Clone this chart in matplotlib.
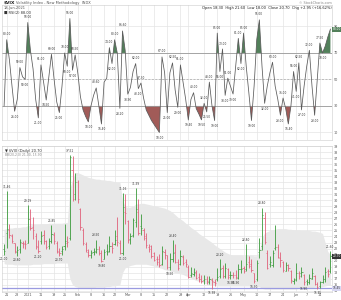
#!/usr/bin/env python
# -*- coding: utf-8 -*-

import numpy as np
import pandas as pd
import matplotlib.pyplot as plt

# datos
holidays = ['2020-12-25', '2021-01-01', '2021-01-18', '2021-02-15',
            '2021-04-02', '2021-05-31']
dates = pd.bdate_range('2020-12-18', '2021-06-18')
dates = dates[~dates.isin(pd.to_datetime(holidays))]

opens = [22.0, 24.5, 25.0, 24.0, 22.9, 21.5, 21.9, 23.0, 22.9,
         23.0, 26.9, 25.6, 24.0, 22.2, 23.2, 24.2, 23.2, 22.5, 23.3, 24.2, 23.0, 21.5, 21.6, 22.5, 23.0,
         23.8, 35.0, 31.0, 33.0, 28.5, 25.0, 22.8, 21.5, 21.0, 21.4, 21.4, 21.9, 21.2, 20.3, 21.6, 21.6,
         22.5, 22.7, 24.0, 23.0, 21.3, 28.0, 26.5, 23.6, 24.2, 26.4, 28.0, 25.7, 25.0, 23.8, 22.3, 22.4,
         21.3, 20.2, 20.2, 19.5, 21.5, 20.9, 19.0, 20.3, 21.5, 19.8, 19.5, 20.6, 19.8, 19.0, 17.7, 17.8,
         18.0, 17.3, 17.0, 16.8, 17.0, 16.5, 16.8, 16.4, 16.9, 17.5, 18.8, 17.4, 18.6, 17.6, 17.6, 17.7,
         17.2, 18.6, 18.7, 18.6, 19.8, 19.4, 17.9, 16.9, 21.5, 22.5, 27.0, 21.3, 19.5, 19.3, 22.1, 22.3,
         20.5, 19.8, 18.3, 19.3, 18.3, 16.7, 16.9, 18.0, 17.9, 17.7, 16.7, 16.4, 17.0, 17.5, 16.1, 15.8,
         16.4, 17.0, 18.3, 18.3]
highs = [22.7, 31.46, 26.0, 24.4, 23.0, 22.4, 23.6, 23.3, 23.4,
         29.19, 28.6, 27.2, 24.5, 23.4, 24.9, 25.0, 23.5, 23.7, 25.85, 24.8, 23.2, 22.1, 22.5, 26.1, 24.0,
         37.51, 37.3, 34.5, 33.4, 28.7, 25.4, 23.1, 22.0, 21.8, 22.1, 23.5, 22.4, 21.7, 21.9, 22.8, 24.0,
         23.1, 25.0, 27.3, 23.4, 31.16, 31.0, 26.8, 24.6, 27.0, 31.99, 30.2, 27.7, 25.4, 24.5, 22.7, 22.6,
         21.5, 20.8, 21.1, 22.5, 22.0, 21.0, 21.2, 23.4, 22.7, 20.2, 21.8, 21.0, 20.3, 19.2, 18.9, 18.7,
         18.4, 17.9, 17.6, 17.7, 17.5, 17.4, 17.2, 17.0, 18.7, 20.2, 19.2, 19.6, 18.8, 18.3, 18.1, 18.4,
         19.5, 20.05, 19.1, 22.8, 20.7, 20.2, 18.0, 20.1, 23.8, 28.8, 28.1, 21.7, 20.8, 21.8, 25.96, 22.7,
         21.5, 20.0, 19.8, 19.4, 18.5, 17.2, 19.6, 18.3, 18.9, 17.8, 17.0, 17.8, 18.8, 17.6, 16.4, 16.7,
         17.6, 19.0, 18.6, 21.6]
lows = [21.0, 22.1, 23.8, 22.9, 21.2, 20.8, 21.3, 22.1, 21.9,
        22.9, 25.0, 23.6, 22.0, 21.2, 22.8, 22.8, 21.9, 21.9, 23.0, 22.8, 21.3, 20.7, 21.0, 21.8, 22.3,
        23.4, 29.9, 30.0, 29.6, 25.0, 22.6, 21.5, 20.6, 20.5, 20.9, 21.3, 20.9, 19.8, 20.2, 20.9, 21.5,
        21.3, 22.6, 22.5, 21.1, 21.0, 26.0, 23.0, 22.8, 23.9, 25.6, 24.3, 24.2, 23.4, 22.1, 21.5, 20.4,
        19.9, 19.3, 18.9, 19.2, 20.2, 18.6, 18.5, 19.8, 19.6, 18.5, 19.3, 19.3, 18.9, 17.2, 17.3, 17.5,
        16.9, 16.5, 16.3, 16.2, 16.1, 16.2, 15.38, 15.8, 16.6, 17.2, 17.2, 17.1, 16.9, 16.9, 17.1, 16.9,
        17.0, 18.0, 17.9, 18.2, 18.8, 18.1, 16.3, 16.6, 20.5, 21.8, 22.7, 18.6, 18.9, 19.0, 21.7, 20.4,
        19.0, 18.1, 18.3, 18.2, 16.3, 16.1, 16.6, 17.0, 17.3, 15.9, 15.9, 16.1, 16.9, 15.9, 15.35, 15.5,
        16.3, 16.5, 17.3, 18.0]
closes = [21.57, 25.16, 24.23, 23.31, 21.53, 21.70, 23.08, 22.77, 22.75,
          26.97, 25.34, 25.07, 22.37, 21.56, 24.08, 23.33, 22.21, 23.25, 24.34, 23.24, 21.58, 21.32, 21.91,
          23.19, 23.02, 37.21, 30.21, 33.09, 30.24, 25.56, 22.91, 21.77, 20.87, 21.24, 21.63, 21.99, 21.25,
          19.97, 21.46, 21.50, 22.49, 22.05, 23.45, 23.11, 21.34, 28.89, 27.95, 23.35, 24.10, 26.67, 28.57,
          24.66, 25.47, 24.03, 22.56, 21.91, 20.69, 20.03, 19.79, 19.23, 21.58, 20.95, 18.88, 20.30, 21.20,
          19.81, 18.86, 20.74, 19.61, 19.40, 17.33, 17.91, 18.12, 17.16, 16.95, 16.69, 16.91, 16.65, 16.99,
          16.57, 16.25, 17.29, 18.68, 17.50, 18.71, 17.33, 17.64, 17.56, 17.28, 18.61, 18.61, 18.31, 19.48,
          19.15, 18.39, 16.69, 19.66, 21.84, 27.59, 23.13, 18.81, 19.72, 21.34, 22.18, 20.67, 20.15, 18.40,
          19.32, 18.84, 16.74, 16.76, 17.90, 17.48, 18.04, 16.42, 16.42, 17.07, 17.89, 16.10, 15.65, 16.39,
          17.02, 18.15, 17.75, 20.70]

# bandas de bollinger
bb_upper = [25.2, 25.3, 25.4, 25.4, 25.5, 25.5, 25.5, 25.6, 25.6,
            25.8, 25.9, 26.0, 26.0, 26.0, 26.1, 26.1, 26.1, 26.2, 26.2, 26.2, 26.2, 26.2, 26.2, 26.3, 26.3,
            32.0, 33.4,
            34.6, 34.6, 34.4, 34.2, 34.0, 33.8, 33.7, 33.6, 33.5, 33.5, 33.4, 33.4, 33.3, 33.3, 33.2, 33.1,
            33.0, 33.0,
            30.0, 29.0,
            28.8, 28.9, 29.0, 29.4, 29.4, 29.5, 29.5, 29.4, 29.3, 29.2, 29.1, 29.0, 28.9, 28.8, 28.7, 28.5,
            28.3, 28.0, 27.6, 27.2, 26.9, 26.6, 26.2, 25.9, 25.5, 25.2, 24.9, 24.5, 24.2, 23.9, 23.6, 23.3,
            23.0, 22.6, 22.3, 22.0, 21.7, 21.4, 21.2, 21.0, 20.9, 20.9,
            20.9, 20.9, 20.8, 20.9, 20.9, 20.9, 20.8, 20.8,
            21.5, 23.8, 24.6, 24.8,
            25.0, 25.1, 25.2, 25.3, 25.3, 25.3, 25.3, 25.2, 25.2, 25.1, 25.1, 25.1, 25.0, 25.0, 25.0, 25.0,
            24.9, 24.9, 24.8, 24.7, 24.5,
            23.0, 21.5, 21.0]
bb_lower = [19.5, 19.4, 19.4, 19.4, 19.3, 19.3, 19.3, 19.3, 19.3, 19.3, 19.3, 19.4, 19.4, 19.4, 19.4,
            19.5, 19.5, 19.5, 19.5, 19.5, 19.6, 19.6, 19.6, 19.6, 19.6,
            17.0,
            16.0, 15.7, 15.6, 15.5, 15.5, 15.5, 15.5, 15.5, 15.5, 15.6, 15.6, 15.6, 15.6, 15.7, 15.7, 15.8,
            15.8, 15.9, 16.0,
            18.0,
            18.8, 19.0, 19.2, 19.3, 19.4, 19.4, 19.4, 19.4, 19.4, 19.3, 19.2, 19.1, 19.0, 18.8, 18.7, 18.5,
            18.4,
            18.3, 18.2, 18.0, 17.9, 17.8, 17.7, 17.5, 17.3, 17.1, 16.9, 16.7, 16.6, 16.4, 16.3, 16.1, 16.0,
            15.9, 15.9, 15.8, 15.8, 15.8, 15.8, 15.8, 15.8, 15.8, 15.8,
            15.8, 15.8, 15.8, 15.8, 15.8, 15.7, 15.7, 15.7, 15.7, 15.4, 15.3, 15.3, 15.3, 15.3, 15.3, 15.3,
            15.3, 15.3, 15.3, 15.3, 15.3, 15.3, 15.3, 15.4, 15.4, 15.4, 15.4, 15.4, 15.5, 15.6, 15.6, 15.6,
            15.7, 15.8, 15.9, 15.9]

# indicador superior (RSI)
rsi = [30, 80, 65, 45, 26, 35, 59, 52, 50,
       93, 72, 58, 35, 21, 61, 48, 34.5, 52, 69, 50, 33, 25, 45, 70, 60,
       96, 57, 68.5, 55, 37, 27, 22, 18, 30, 38, 43.6, 30, 16.4, 48, 51, 74,
       62, 80, 70, 28.2, 86.6, 72, 38.9, 44, 56, 62, 43.1, 47.3, 36, 27, 23, 19,
       16, 13, 10, 67, 55, 25, 55, 62.5, 42, 29, 61, 48, 35, 19.4, 35, 40,
       28, 24, 19.5, 32, 25.5, 48, 30, 19, 85, 56, 73, 38, 51, 45, 39, 60,
       81, 62, 85, 60, 40, 19, 45, 80, 95, 60, 32, 45, 55, 63, 45, 35, 23,
       36, 28, 16.4, 30, 56, 41, 62.5, 27, 45, 60, 72, 45, 23, 50, 77.5, 70,
       75, 82, 88]

hline_level = 15.45

x = np.arange(len(dates))
opens = np.array(opens)
highs = np.array(highs)
lows = np.array(lows)
closes = np.array(closes)
rsi = np.array(rsi, dtype=float)

txt = '#555555'
grid_c = '#e4e4e4'

fig = plt.figure(figsize=(3.41, 3.0), dpi=100)
ax1 = fig.add_axes([2 / 341, 1 - 140 / 300, 330 / 341, 135 / 300])
ax2 = fig.add_axes([2 / 341, 8 / 300, 330 / 341, 146 / 300])

# ticks de fecha
ticks = []
labels = []
last_month = -10
for i, d in enumerate(dates):
    new_month = i == 0 or d.month != dates[i - 1].month
    new_week = i > 0 and d.weekday() < dates[i - 1].weekday()
    if new_month and i > 0:
        ticks.append(i)
        labels.append(str(d.year) if d.month == 1 else d.strftime('%b'))
        last_month = i
    elif new_week and i - last_month > 3:
        ticks.append(i)
        labels.append(str(d.day))

for ax in (ax1, ax2):
    ax.set_xlim(-0.8, len(x) - 0.4)
    ax.set_xticks(ticks)
    ax.grid(axis='x', color=grid_c, lw=0.5)
    ax.grid(axis='y', color=grid_c, lw=0.5)
    ax.set_axisbelow(True)
    ax.yaxis.tick_right()
    ax.tick_params(length=0, labelsize=2.4, labelcolor=txt, pad=1)
    for s in ax.spines.values():
        s.set_color('#cccccc')
        s.set_linewidth(0.4)

# panel superior
ax1.set_ylim(4.3, 106.2)
ax1.set_yticks([10, 30, 50, 70, 90])
ax1.set_xticklabels([])
ax1.axhline(70, color='#999999', lw=0.6)
ax1.axhline(30, color='#999999', lw=0.6)
ax1.axhline(50, color='#aaaaaa', lw=0.5, ls=(0, (3, 2)))
ax1.fill_between(x, rsi, 70, where=rsi >= 70, interpolate=True, color='#52805a', lw=0)
ax1.fill_between(x, rsi, 30, where=rsi <= 30, interpolate=True, color='#a15b58', lw=0)
ax1.plot(x, rsi, color='#5a5a5a', lw=0.55)
for i in range(1, len(x) - 1):
    if rsi[i] > rsi[i - 1] and rsi[i] > rsi[i + 1]:
        ax1.annotate('%.2f' % rsi[i], (x[i], rsi[i]), xytext=(0, 2.5), textcoords='offset points',
                     ha='center', va='bottom', fontsize=2.1, color='#333333')
    elif rsi[i] < rsi[i - 1] and rsi[i] < rsi[i + 1]:
        ax1.annotate('%.2f' % rsi[i], (x[i], rsi[i]), xytext=(0, -2.5), textcoords='offset points',
                     ha='center', va='top', fontsize=2.1, color='#333333')
ax1.annotate('%.2f' % rsi[-1], (1.0, rsi[-1]), xycoords=('axes fraction', 'data'), xytext=(0.5, 0),
             textcoords='offset points', ha='left', va='center', fontsize=2.1, color='white',
             bbox=dict(boxstyle='square,pad=0.15', fc='#52805a', ec='none'), annotation_clip=False)

# panel inferior
ax2.set_ylim(14.8, 39.0)
ax2.set_yticks(np.arange(15, 40))
ax2.set_xticklabels(labels)
ax2.fill_between(x, bb_lower, bb_upper, color='#e8e8e8', lw=0)
ax2.axhline(hline_level, color='#9a9ae0', lw=0.9)
up = np.r_[True, closes[1:] >= closes[:-1]]
cols = np.where(up, '#3a9a3a', '#e0607a')
ax2.vlines(x, lows, highs, colors=cols, lw=0.6)
ax2.hlines(opens, x - 0.45, x, colors=cols, lw=0.5)
ax2.hlines(closes, x, x + 0.45, colors=cols, lw=0.5)
for i in range(len(x)):
    lo, hi = max(0, i - 4), min(len(x), i + 5)
    if highs[i] == highs[lo:hi].max():
        ax2.annotate('%.2f' % highs[i], (x[i], highs[i]), xytext=(0, 1.5), textcoords='offset points',
                     ha='center', va='bottom', fontsize=2.1, color='#333333')
    if lows[i] == lows[lo:hi].min():
        ax2.annotate('%.2f' % lows[i], (x[i], lows[i]), xytext=(0, -1.5), textcoords='offset points',
                     ha='center', va='top', fontsize=2.1, color='#333333')
ax2.annotate('%.2f' % closes[-1], (1.0, closes[-1]), xycoords=('axes fraction', 'data'), xytext=(0.5, 0),
             textcoords='offset points', ha='left', va='center', fontsize=2.1, color='white',
             bbox=dict(boxstyle='square,pad=0.15', fc='#333333', ec='none'), annotation_clip=False)
ax2.annotate('%.2f' % hline_level, (1.0, hline_level), xycoords=('axes fraction', 'data'), xytext=(0.5, 0),
             textcoords='offset points', ha='left', va='center', fontsize=2.1, color='#333333',
             bbox=dict(boxstyle='square,pad=0.15', fc='#d8d8f4', ec='none'), annotation_clip=False)

# textos
chg = closes[-1] - closes[-2]
fig.text(4 / 341, 1 - 3 / 300, '$VIX', fontsize=3.2, weight='bold', va='center', color='#222222')
fig.text(16 / 341, 1 - 3 / 300, 'Volatility Index - New Methodology  INDX', fontsize=2.6,
         va='center', color=txt)
fig.text(4 / 341, 1 - 8 / 300, dates[-1].strftime('%d-%b-%Y'), fontsize=2.6, va='center', color=txt)
fig.text(4 / 341, 1 - 13 / 300, '\u25a0 RSI(2) %.2f' % rsi[-1], fontsize=2.6, va='center', color='#333333')
fig.text(332 / 341, 1 - 2.5 / 300, '\u00a9 StockCharts.com', fontsize=2.4, va='center', ha='right',
         color='#888888')
fig.text(332 / 341, 1 - 7.5 / 300,
         'Open %.2f  High %.2f  Low %.2f  Close %.2f  Chg %+.2f (%+.2f%%)'
         % (opens[-1], highs[-1], lows[-1], closes[-1], chg, 100 * chg / closes[-2]),
         fontsize=2.6, va='center', ha='right', color='#222222')
ax2.text(0.008, 0.965, '\u25bc $VIX (Daily) %.2f' % closes[-1], transform=ax2.transAxes,
         fontsize=2.6, va='center', color='#333333')
ax2.text(0.008, 0.94, 'BB(20,2.0) %.2f, %.2f' % (bb_upper[-1], bb_lower[-1]), transform=ax2.transAxes,
         fontsize=2.2, va='center', color='#888888')

fig.savefig('out.png', dpi=100)
